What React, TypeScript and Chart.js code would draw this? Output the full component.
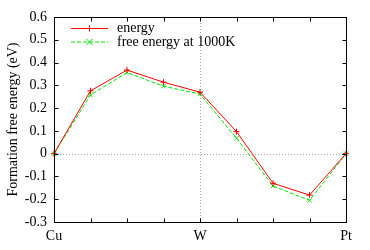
import React, { useEffect, useRef } from "react";
import { Chart, registerables } from "chart.js";

Chart.register(...registerables);

const categories = ["Cu", "", "", "", "W", "", "", "", "Pt"];
const energy = [0, 0.276, 0.367, 0.314, 0.27, 0.097, -0.13, -0.182, 0];
const freeEnergy1000K = [0, 0.258, 0.356, 0.296, 0.262, 0.068, -0.142, -0.205, 0];
const seriesLabels = ["energy", "free energy at 1000K"];
const yTitle = "Formation free energy (eV)";
const yMin = -0.3;
const yMax = 0.6;
const yStep = 0.1;

const FONT = "'Liberation Serif', 'DejaVu Serif', serif";
const RED = "rgb(255,0,0)";
const GREEN = "rgb(0,230,0)";

const framePlugin = {
  id: "gnuFrame",
  beforeDatasetsDraw(chart: any) {
    const { ctx, chartArea: a, scales } = chart;
    const x = scales.x, y = scales.y;
    ctx.save();
    ctx.strokeStyle = "#a8a8a8";
    ctx.lineWidth = 1;
    ctx.setLineDash([1, 2]);
    const y0 = Math.round(y.getPixelForValue(0)) + 0.5;
    ctx.beginPath();
    ctx.moveTo(a.left, y0);
    ctx.lineTo(a.right, y0);
    const xw = Math.round(x.getPixelForValue(4)) + 0.5;
    ctx.moveTo(xw, a.top);
    ctx.lineTo(xw, a.bottom);
    ctx.stroke();
    ctx.restore();
  },
  afterDraw(chart: any) {
    const { ctx, chartArea: a, scales } = chart;
    const x = scales.x, y = scales.y;
    ctx.save();
    ctx.strokeStyle = "#000";
    ctx.lineWidth = 1;
    ctx.setLineDash([]);
    const L = Math.round(a.left) + 0.5, R = Math.round(a.right) + 0.5;
    const T = Math.round(a.top) + 0.5, B = Math.round(a.bottom) + 0.5;
    ctx.strokeRect(L, T, R - L, B - T);
    ctx.beginPath();
    const tl = 4;
    for (let v = yMin; v <= yMax + 1e-9; v += yStep) {
      const py = Math.round(y.getPixelForValue(v)) + 0.5;
      ctx.moveTo(L, py); ctx.lineTo(L + tl, py);
      ctx.moveTo(R, py); ctx.lineTo(R - tl, py);
    }
    for (let i = 0; i < categories.length; i++) {
      const px = Math.round(x.getPixelForValue(i)) + 0.5;
      ctx.moveTo(px, B); ctx.lineTo(px, B - tl);
      ctx.moveTo(px, T); ctx.lineTo(px, T + tl);
    }
    ctx.stroke();

    ctx.fillStyle = "#000";
    ctx.font = `14px ${FONT}`;
    ctx.textAlign = "center";
    ctx.textBaseline = "middle";
    ctx.translate(13, (a.top + a.bottom) / 2);
    ctx.rotate(-Math.PI / 2);
    ctx.fillText(yTitle, 0, 0);
    ctx.restore();

    ctx.save();
    const items = [
      { label: seriesLabels[0], color: RED, dash: [], marker: "plus" },
      { label: seriesLabels[1], color: GREEN, dash: [4, 2], marker: "x" },
    ];
    items.forEach((it, i) => {
      const ly = 28.5 + i * 13.5;
      ctx.strokeStyle = it.color;
      ctx.lineWidth = 1;
      ctx.setLineDash(it.dash);
      ctx.beginPath();
      ctx.moveTo(71, ly);
      ctx.lineTo(108, ly);
      ctx.stroke();
      ctx.setLineDash([]);
      ctx.beginPath();
      const mx = 89.5, r = 3;
      if (it.marker === "plus") {
        ctx.moveTo(mx - r, ly); ctx.lineTo(mx + r, ly);
        ctx.moveTo(mx, ly - r); ctx.lineTo(mx, ly + r);
      } else {
        ctx.moveTo(mx - r, ly - r); ctx.lineTo(mx + r, ly + r);
        ctx.moveTo(mx - r, ly + r); ctx.lineTo(mx + r, ly - r);
      }
      ctx.stroke();
      ctx.fillStyle = "#000";
      ctx.font = `14px ${FONT}`;
      ctx.textAlign = "left";
      ctx.textBaseline = "middle";
      ctx.fillText(it.label, 117, ly);
    });
    ctx.restore();
  },
};

export default function App() {
  const ref = useRef<HTMLCanvasElement>(null);
  useEffect(() => {
    if (!ref.current) return;
    const chart = new Chart(ref.current, {
      type: "line",
      data: {
        labels: categories,
        datasets: [
          {
            label: seriesLabels[0],
            data: energy,
            borderColor: RED,
            backgroundColor: RED,
            borderWidth: 1,
            pointStyle: "cross",
            pointRadius: 3,
            pointBorderWidth: 1,
            tension: 0,
          },
          {
            label: seriesLabels[1],
            data: freeEnergy1000K,
            borderColor: GREEN,
            backgroundColor: GREEN,
            borderWidth: 1,
            borderDash: [4, 2],
            pointStyle: "crossRot",
            pointRadius: 3,
            pointBorderWidth: 1,
            tension: 0,
          },
        ],
      },
      options: {
        responsive: false,
        animation: false,
        layout: { padding: { left: 0, top: 17, right: 24, bottom: 0 } },
        plugins: { legend: { display: false }, tooltip: { enabled: false } },
        scales: {
          x: {
            type: "category",
            offset: false,
            grid: { display: false, drawTicks: false },
            border: { display: false },
            ticks: {
              autoSkip: false,
              maxRotation: 0,
              padding: 6,
              color: "#000",
              font: { family: FONT, size: 14 },
            },
            afterFit: (s: any) => { s.height = 28; },
          },
          y: {
            min: yMin,
            max: yMax,
            grid: { display: false, drawTicks: false },
            border: { display: false },
            ticks: {
              stepSize: yStep,
              padding: 7,
              color: "#000",
              font: { family: FONT, size: 14 },
              callback: (v: any) => {
                const n = Math.round(Number(v) * 10) / 10;
                return n === 0 ? "0" : String(n);
              },
            },
            afterFit: (s: any) => { s.width = 54; },
          },
        },
      },
      plugins: [framePlugin],
    });
    return () => chart.destroy();
  }, []);
  return (
    <div style={{ position: "absolute", left: 0, top: 0, width: 370, height: 250, background: "#fff" }}>
      <canvas ref={ref} width={370} height={250} />
    </div>
  );
}
